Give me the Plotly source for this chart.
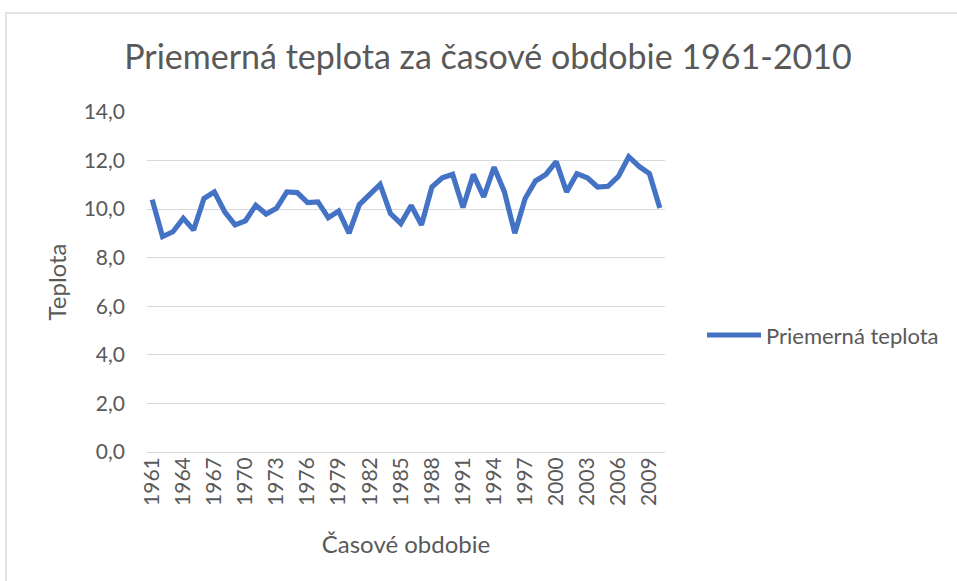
import plotly.graph_objects as go

# Average yearly temperature, 1961-2010
years = list(range(1961, 2011))
temperature = [
    10.39, 8.87, 9.07, 9.62, 9.14, 10.44, 10.71, 9.89, 9.35, 9.52,
    10.16, 9.80, 10.03, 10.71, 10.68, 10.27, 10.30, 9.65, 9.92, 9.01,
    10.19, 10.64, 11.02, 9.82, 9.41, 10.15, 9.35, 10.91, 11.29, 11.43,
    10.07, 11.43, 10.50, 11.73, 10.71, 9.01, 10.44, 11.16, 11.43, 11.96,
    10.71, 11.46, 11.29, 10.91, 10.94, 11.35, 12.16, 11.76, 11.46, 10.05,
]
tick_years = years[::3]
tick_labels = [str(y) for y in tick_years]

series_name = "Priemerná teplota"
title_text = "Priemerná teplota za časové obdobie 1961-2010"
x_title = "Časové obdobie"
y_title = "Teplota"

FONT = "Lato"
TEXT = "#595959"
GRID = "#d9d9d9"
BLUE = "#4472c4"

W, H = 957, 581
L, R, T, B = 147, 292, 112, 129
pw, ph = W - L - R, H - T - B


def px_x(px):
    return (px - L) / pw


def px_y(py):
    return (H - B - py) / ph


fig = go.Figure()
fig.add_trace(go.Scatter(
    x=years, y=temperature, mode="lines", name=series_name,
    line=dict(color=BLUE, width=5.2), showlegend=False,
))

fig.update_layout(
    width=W, height=H,
    margin=dict(l=L, r=R, t=T, b=B),
    paper_bgcolor="white", plot_bgcolor="white",
    separators=", ",
    font=dict(family=FONT, color=TEXT, size=21),
    title=dict(text=title_text, x=488 / W, xanchor="center",
               y=1 - 57 / H, yanchor="middle", yref="container",
               font=dict(size=34, color=TEXT, family=FONT)),
    xaxis=dict(
        range=[1960.5, 2010.5], tickmode="array", tickvals=tick_years,
        ticktext=tick_labels, tickangle=-90, showgrid=False,
        showline=False, zeroline=False, ticks="",
        tickfont=dict(size=21, color=TEXT),
        title=dict(text=x_title, font=dict(size=24, color=TEXT), standoff=31),
    ),
    yaxis=dict(
        range=[0, 14], dtick=2, tickformat=".1f", showgrid=True,
        gridcolor=GRID, gridwidth=1, zeroline=True, zerolinecolor=GRID,
        zerolinewidth=1, showline=False, ticks="",
        ticklabelstandoff=21,
        tickfont=dict(size=21, color=TEXT),
        title=dict(text=y_title, font=dict(size=24, color=TEXT), standoff=10),
    ),
)

# Chart area border
fig.add_shape(type="rect", xref="paper", yref="paper",
              x0=px_x(6), x1=px_x(990), y0=px_y(600), y1=px_y(13),
              line=dict(color=GRID, width=1.5), fillcolor="rgba(0,0,0,0)",
              layer="below")

# Legend entry
fig.add_shape(type="line", xref="paper", yref="paper",
              x0=px_x(707), x1=px_x(761), y0=px_y(335), y1=px_y(335),
              line=dict(color=BLUE, width=5.2))
fig.add_annotation(xref="paper", yref="paper", x=px_x(764), y=px_y(335),
                   text=series_name, showarrow=False, xanchor="left",
                   yanchor="middle", font=dict(size=22, color=TEXT))

fig.write_html("out.html")
